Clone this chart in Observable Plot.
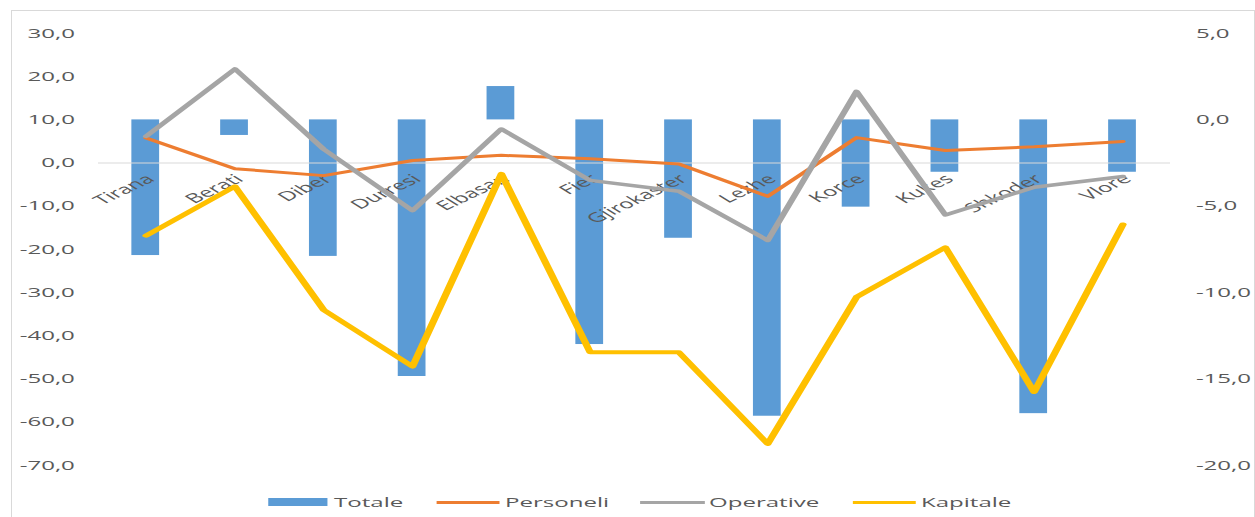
<!DOCTYPE html>
<html><head><meta charset="utf-8">
<script src="https://cdn.jsdelivr.net/npm/d3@7"></script>
<script src="https://cdn.jsdelivr.net/npm/@observablehq/plot@0.6"></script>
<style>
html,body{margin:0;padding:0;background:#fff;}
body{width:1255px;height:517px;overflow:hidden;position:relative;font-family:"Open Sans",sans-serif;}
#frame{position:absolute;left:11px;top:10px;width:1244px;height:530px;border:1px solid #d9d9d9;box-sizing:border-box;}
#stage{position:absolute;left:0;top:0;transform-origin:0 0;}
#legend{position:absolute;left:0;top:0;width:100%;height:517px;}
.lg-sw{position:absolute;}
.lg-tx{position:absolute;font-size:13px;color:#595959;line-height:16px;white-space:nowrap;}
</style></head><body>
<div id="frame"></div>
<div id="stage"><div id="chart"></div><div id="legend"></div></div>
<script>
// ---- data ----
const categories = ["Tirana","Berati","Diber","Durresi","Elbasan","Fier","Gjirokaster","Lezhe","Korce","Kukes","Shkoder","Vlore"];
// Totale is plotted on the secondary (right) axis
const totale    = [-7.85, -0.9, -7.9, -14.85, 1.93, -13.0, -6.85, -17.15, -5.05, -3.03, -17.0, -3.03];
// Line series on the primary (left) axis
const personeli = [5.8, -1.3, -2.9, 0.6, 1.8, 1.0, -0.2, -7.7, 5.9, 2.9, 3.8, 5.0];
const operative = [6.2, 21.8, 3.2, -11.0, 7.9, -4.0, -6.5, -17.9, 16.6, -12.0, -5.6, -3.1];
const kapitale  = [-16.8, -5.4, -34.0, -47.1, -2.5, -43.8, -43.8, -65.0, -31.0, -19.5, -53.0, -14.2];
const leftTicks  = [30, 20, 10, 0, -10, -20, -30, -40, -50, -60, -70];
const rightTicks = [5, 0, -5, -10, -15, -20];
const seriesNames  = ["Totale", "Personeli", "Operative", "Kapitale"];
const seriesColors = ["#5b9bd5", "#ed7d31", "#a5a5a5", "#ffc000"];

// ---- layout ----
const S = 1.85;               // horizontal stretch of the picture
const W = 1255 / S;
const toPrimary = v => 10 + 4 * v;   // right axis -> left axis (0 on right = 10 on left)
const fmt = v => (Math.round(v * 10) / 10).toFixed(1).replace(".", ",").replace("-0,0", "0,0");

const rows = categories.map((c, i) => ({cat: c, totale: totale[i], personeli: personeli[i], operative: operative[i], kapitale: kapitale[i]}));

const chart = Plot.plot({
  width: W,
  height: 480,
  marginTop: 33,
  marginBottom: 15,
  marginLeft: 98 / S,
  marginRight: 85 / S,
  style: {background: "transparent", overflow: "visible", fontFamily: "'Open Sans', sans-serif", fontSize: "13px", color: "#595959"},
  x: {type: "band", domain: categories, paddingInner: 0.69, paddingOuter: 0.345, axis: null},
  y: {domain: [-70, 30], axis: null},
  marks: [
    Plot.axisY(leftTicks, {anchor: "left", tickSize: 0, tickPadding: 13, tickFormat: fmt, fill: "#595959", fontSize: 13}),
    Plot.axisY(rightTicks.map(toPrimary), {anchor: "right", tickSize: 0, tickPadding: 13.5, tickFormat: v => fmt((v - 10) / 4), fill: "#595959", fontSize: 13}),
    Plot.barY(rows, {x: "cat", y1: () => toPrimary(0), y2: d => toPrimary(d.totale), fill: seriesColors[0]}),
    Plot.ruleY([0], {stroke: "#d9d9d9", strokeWidth: 1}),
    Plot.text(rows, {x: "cat", y: 0, text: "cat", rotate: -41, textAnchor: "end", dx: 2.5, dy: 14, fill: "#595959", fontSize: 13}),
    Plot.lineY(rows, {x: "cat", y: "personeli", stroke: seriesColors[1], strokeWidth: 3, strokeLinejoin: "round", strokeLinecap: "round"}),
    Plot.lineY(rows, {x: "cat", y: "operative", stroke: seriesColors[2], strokeWidth: 3.5, strokeLinejoin: "round", strokeLinecap: "round"}),
    Plot.lineY(rows, {x: "cat", y: "kapitale", stroke: seriesColors[3], strokeWidth: 4, strokeLinejoin: "round", strokeLinecap: "round"})
  ]
});
document.getElementById("chart").appendChild(chart);
document.getElementById("stage").style.transform = `scaleX(${S})`;
document.getElementById("stage").style.width = W + "px";

// ---- legend (final-pixel positions converted to the unstretched frame) ----
const legendX = [[268, 328, 334], [436, 500, 505], [640, 704, 709], [852, 916, 921]];
const lg = document.getElementById("legend");
seriesNames.forEach((name, i) => {
  const [x0, x1, tx] = legendX[i];
  const sw = document.createElement("div");
  sw.className = "lg-sw";
  sw.style.left = (x0 / S) + "px";
  sw.style.width = ((x1 - x0) / S) + "px";
  if (i === 0) { sw.style.top = "498px"; sw.style.height = "8px"; }
  else { sw.style.top = "500.5px"; sw.style.height = "3px"; }
  sw.style.background = seriesColors[i];
  lg.appendChild(sw);
  const t = document.createElement("div");
  t.className = "lg-tx";
  t.style.left = (tx / S) + "px";
  t.style.top = "494px";
  t.textContent = name;
  lg.appendChild(t);
});
</script>
</body></html>
